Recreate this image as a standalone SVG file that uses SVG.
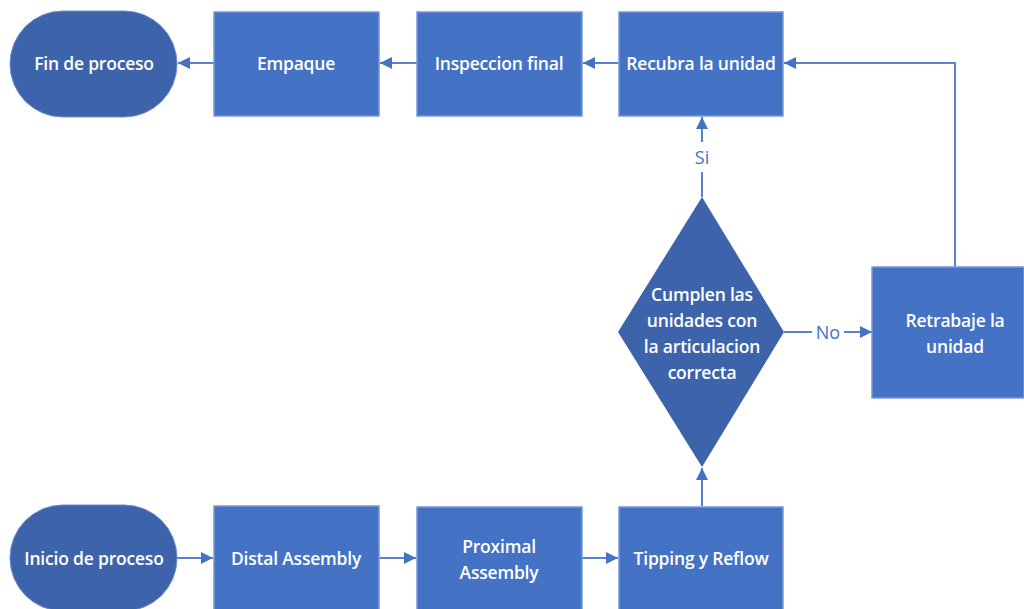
<svg xmlns="http://www.w3.org/2000/svg" width="1024" height="609" viewBox="0 0 1024 609">
  <style>
    .proc { fill: #4472c4; stroke: #7a98d6; stroke-width: 1.5; }
    .term { fill: #3d64ab; stroke: #6f8cc8; stroke-width: 1; }
    .dec { fill: #3d64ab; }
    .lbl { font-family: "Open Sans", "Noto Sans", sans-serif; font-size: 17.5px; font-weight: 600; fill: #ffffff; text-anchor: middle; dominant-baseline: central; letter-spacing: -0.2px; }
    .edge { fill: none; stroke: #5b82cf; stroke-width: 2; }
    .elbl { font-family: "Open Sans", "Noto Sans", sans-serif; font-size: 18px; fill: #4472c4; text-anchor: middle; dominant-baseline: central; }
  </style>
  <defs>
    <marker id="arrowL" viewBox="0 0 10 10" refX="10" refY="5" markerWidth="12" markerHeight="12" markerUnits="userSpaceOnUse" orient="auto">
      <path d="M0,0 L10,5 L0,10 z" fill="#4472c4"/>
    </marker>
  </defs>

  <rect width="1024" height="609" fill="#ffffff"/>

  <!-- connectors -->
  <g id="connectors">
    <line class="edge" x1="214" y1="63" x2="178" y2="63" marker-end="url(#arrowL)"/>
    <line class="edge" x1="417" y1="63" x2="380" y2="63" marker-end="url(#arrowL)"/>
    <line class="edge" x1="619" y1="63" x2="583" y2="63" marker-end="url(#arrowL)"/>
    <polyline class="edge" points="955,267 955,63 784,63" marker-end="url(#arrowL)"/>
    <line class="edge" x1="702" y1="197" x2="702" y2="172"/>
    <line class="edge" x1="702" y1="142" x2="702" y2="117" marker-end="url(#arrowL)"/>
    <text class="elbl" x="702" y="157">Si</text>
    <line class="edge" x1="784" y1="332" x2="812" y2="332"/>
    <line class="edge" x1="844" y1="332" x2="872" y2="332" marker-end="url(#arrowL)"/>
    <text class="elbl" x="828" y="332">No</text>
    <line class="edge" x1="702" y1="506" x2="702" y2="468" marker-end="url(#arrowL)"/>
    <line class="edge" x1="177" y1="558" x2="213" y2="558" marker-end="url(#arrowL)"/>
    <line class="edge" x1="379" y1="558" x2="416" y2="558" marker-end="url(#arrowL)"/>
    <line class="edge" x1="582" y1="558" x2="618" y2="558" marker-end="url(#arrowL)"/>
  </g>

  <!-- top row -->
  <g id="fin">
    <rect class="term" x="10" y="11" width="167" height="106" rx="53" ry="53"/>
    <text class="lbl" x="94" y="63">Fin de proceso</text>
  </g>
  <g id="empaque">
    <rect class="proc" x="214" y="12" width="165" height="104"/>
    <text class="lbl" x="296" y="63">Empaque</text>
  </g>
  <g id="inspeccion">
    <rect class="proc" x="417" y="12" width="165" height="104"/>
    <text class="lbl" x="499" y="63">Inspeccion final</text>
  </g>
  <g id="recubra">
    <rect class="proc" x="619" y="12" width="164" height="104"/>
    <text class="lbl" x="701" y="63">Recubra la unidad</text>
  </g>

  <!-- decision -->
  <g id="decision">
    <polygon class="dec" points="702,197 784,332 702,467 618,332"/>
    <text class="lbl" x="702" y="294">Cumplen las</text>
    <text class="lbl" x="702" y="320">unidades con</text>
    <text class="lbl" x="702" y="346">la articulacion</text>
    <text class="lbl" x="702" y="372">correcta</text>
  </g>
  <g id="retrabaje">
    <rect class="proc" x="872" y="267" width="152" height="131"/>
    <text class="lbl" x="955" y="320">Retrabaje la</text>
    <text class="lbl" x="955" y="346">unidad</text>
  </g>

  <!-- bottom row -->
  <g id="inicio">
    <rect class="term" x="10" y="505" width="167" height="106" rx="53" ry="53"/>
    <text class="lbl" x="94" y="558">Inicio de proceso</text>
  </g>
  <g id="distal">
    <rect class="proc" x="214" y="506" width="165" height="106"/>
    <text class="lbl" x="296" y="558">Distal Assembly</text>
  </g>
  <g id="proximal">
    <rect class="proc" x="417" y="507" width="165" height="106"/>
    <text class="lbl" x="499" y="546">Proximal</text>
    <text class="lbl" x="499" y="572">Assembly</text>
  </g>
  <g id="tipping">
    <rect class="proc" x="619" y="507" width="164" height="106"/>
    <text class="lbl" x="701" y="558">Tipping y Reflow</text>
  </g>
</svg>
